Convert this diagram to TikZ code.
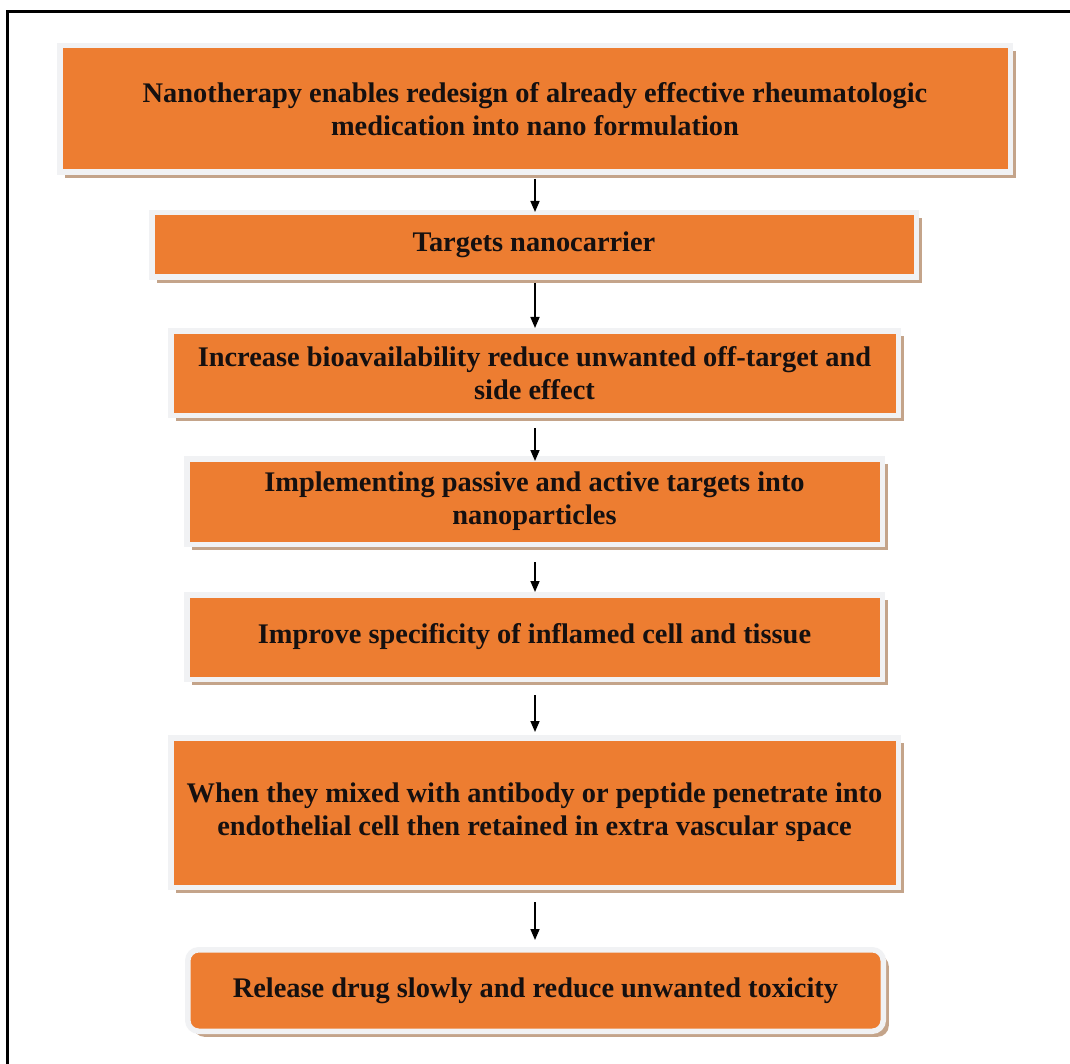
\documentclass[tikz,border=0pt]{standalone}
\usepackage{fontspec}
\setmainfont{Liberation Serif}
\usetikzlibrary{arrows.meta,shadows}
\definecolor{boxorange}{HTML}{ED7D31}
\definecolor{framegray}{HTML}{F1F2F4}
\definecolor{shadowtan}{HTML}{C4A48A}
\definecolor{txt}{HTML}{151010}
\tikzset{
  flowbox/.style={rectangle, fill=boxorange, draw=framegray, line width=5.5pt,
    align=center, inner sep=0pt, text=txt,
    font=\fontsize{28.4}{33}\selectfont\bfseries,
    drop shadow={shadow xshift=5.5pt, shadow yshift=-5.5pt, fill=shadowtan, opacity=1}},
  flowarrow/.style={line width=1.6pt, -{Triangle[length=11pt,width=9pt]}}
}
\begin{document}
\begin{tikzpicture}[x=1pt,y=-1pt]
\clip (0,0) rectangle (1070,1064);
\fill[white] (0,0) rectangle (1070,1064);
\draw[line width=3pt] (7.5,1080) -- (7.5,11.5) -- (1090,11.5);

\node[flowbox, minimum width=950.5pt, minimum height=126.5pt] (b1) at (535,109)
  {Nanotherapy enables redesign of already effective rheumatologic\\medication into nano formulation};
\node[flowbox, minimum width=764.5pt, minimum height=64.5pt] (b2) at (534,245)
  {Targets nanocarrier};
\node[flowbox, minimum width=727.5pt, minimum height=84.5pt] (b3) at (534.5,373)
  {Increase bioavailability reduce unwanted off-target and\\side effect};
\node[flowbox, minimum width=695.5pt, minimum height=85.5pt] (b4) at (534.5,501.5)
  {Implementing passive and active targets into\\nanoparticles};
\node[flowbox, minimum width=695.5pt, minimum height=84.5pt] (b5) at (534.5,637)
  {Improve specificity of inflamed cell and tissue};
\node[flowbox, minimum width=727.5pt, minimum height=149.5pt] (b6) at (534.5,812.5)
  {When they mixed with antibody or peptide penetrate into\\endothelial cell then retained in extra vascular space};
\node[flowbox, rounded corners=11pt, minimum width=695.5pt, minimum height=81.5pt] (b7) at (535.5,990.5)
  {Release drug slowly and reduce unwanted toxicity};

\draw[flowarrow, shorten <=4pt, shorten >=-2pt] (b1.south -| 535,0) -- (b2.north -| 535,0);
\draw[flowarrow, shorten <=3pt] (b2.south -| 535,0) -- (b3.north -| 535,0);
\draw[flowarrow, shorten <=10pt, shorten >=-5pt] (b3.south -| 535,0) -- (b4.north -| 535,0);
\draw[flowarrow, shorten <=15pt] (b4.south -| 535,0) -- (b5.north -| 535,0);
\draw[flowarrow, shorten <=13pt, shorten >=3pt] (b5.south -| 535,0) -- (b6.north -| 535,0);
\draw[flowarrow, shorten <=12pt, shorten >=7pt] (b6.south -| 535,0) -- (b7.north -| 535,0);
\end{tikzpicture}
\end{document}
